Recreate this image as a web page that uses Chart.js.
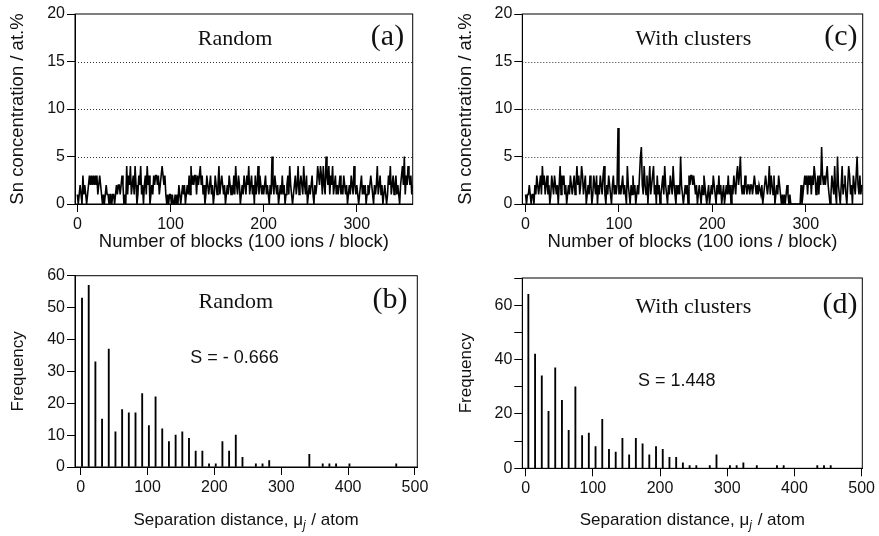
<!DOCTYPE html>
<html>
<head>
<meta charset="utf-8">
<script src="https://cdn.jsdelivr.net/npm/chart.js@4.4.1/dist/chart.umd.min.js"></script>
<style>
  body { margin: 0; background: #fff; }
  #wrap { position: relative; width: 879px; height: 536px; background: #fff; overflow: hidden; }
  canvas { position: absolute; }
</style>
</head>
<body>
<div id="wrap">
  <canvas id="chartA" width="440" height="262" style="left:0px;top:0px"></canvas>
  <canvas id="chartC" width="432" height="262" style="left:447px;top:0px"></canvas>
  <canvas id="chartB" width="440" height="274" style="left:0px;top:262px"></canvas>
  <canvas id="chartD" width="432" height="274" style="left:447px;top:262px"></canvas>
</div>
<script>
// Sn concentration per block (100 ions / block) (a) and (c)
const randomConc = [
  1,0,1,2,1,0,3,1,2,1,0,1,2,3,2,3,2,3,2,3,
  2,3,1,2,3,2,1,0,1,0,1,2,1,1,0,1,1,0,1,1,
  0,1,2,1,2,2,1,2,3,2,0,1,0,4,1,3,2,4,1,2,
  3,1,4,2,0,1,3,2,4,1,2,0,2,3,1,4,2,3,0,1,
  2,1,3,2,3,3,2,3,1,2,3,4,3,2,3,1,0,1,0,1,
  1,0,1,0,0,1,0,1,0,2,1,0,1,2,1,2,0,1,2,1,
  3,1,4,2,3,2,3,3,1,3,2,3,4,2,3,1,2,0,1,3,
  2,1,2,3,1,2,0,1,3,2,1,2,4,1,2,3,2,1,2,0,
  1,2,1,3,2,1,2,1,3,1,4,2,1,3,2,0,1,2,1,3,
  2,1,3,2,4,1,2,3,1,2,0,3,1,2,4,1,3,2,1,2,
  1,2,3,1,2,1,0,2,1,5,2,1,3,2,1,2,0,1,2,1,
  3,1,2,0,1,2,3,1,4,2,1,0,1,2,3,1,2,4,1,2,
  3,2,1,4,2,1,3,0,1,2,1,2,3,1,0,2,1,2,4,3,
  2,4,3,1,4,2,1,5,3,2,4,1,3,2,4,1,2,3,1,2,
  1,2,3,1,2,1,3,2,1,2,0,1,2,1,3,2,1,4,2,1,
  2,1,0,1,2,3,1,2,1,2,0,1,2,1,2,3,2,1,0,2,
  1,2,4,1,2,3,1,2,0,1,2,1,0,1,3,2,4,1,2,3,
  1,2,3,1,2,1,0,2,3,4,2,5,1,3,2,4,3,2,3,1,
  2
];
const clusterConc = [
  1,0,1,1,2,1,0,1,1,0,2,1,3,2,1,2,3,1,4,2,
  3,1,2,3,1,2,0,1,3,2,1,3,2,1,2,0,2,4,1,3,
  2,3,1,2,0,1,2,1,3,2,1,2,3,1,2,4,2,3,1,2,
  4,3,1,2,3,0,1,2,1,3,2,0,1,3,2,1,3,0,2,1,
  3,2,1,3,4,1,0,2,1,3,2,1,0,2,3,1,2,1,2,8,
  1,2,1,2,3,1,2,1,0,4,2,1,0,2,1,3,1,2,0,1,
  2,1,3,5,6,2,1,4,2,1,3,0,2,4,1,2,3,4,1,2,
  0,3,1,2,0,1,2,3,1,4,2,1,0,2,1,3,2,1,4,2,
  1,0,2,1,2,1,5,2,1,0,1,2,1,2,0,3,2,3,3,2,
  3,2,1,2,0,1,2,1,0,2,1,3,2,1,0,1,2,0,1,2,
  1,3,2,1,0,2,1,3,1,2,0,1,2,0,1,2,1,3,1,2,
  0,2,1,3,2,1,3,4,2,3,5,2,1,2,1,3,2,1,2,2,
  1,2,2,1,2,3,2,1,2,1,2,2,1,2,0,1,2,3,2,1,
  2,4,1,3,2,1,3,0,1,2,1,3,2,1,0,1,0,1,0,1,
  2,1,0,1,0,0,0,0,0,0,0,0,0,0,0,2,0,1,2,3,
  2,3,1,3,2,3,1,3,2,4,3,1,2,3,1,3,2,6,3,2,
  3,2,3,4,2,1,0,1,3,2,1,4,1,0,5,2,1,0,2,4,
  1,2,3,1,0,2,4,3,1,2,0,3,2,1,3,5,2,1,3,1,
  2
];

// Frequency distributions of separation distance, panels (b) and (d)
const randomSep  = [2,12,22,32,42,52,62,72,82,92,102,112,122,132,142,152,162,172,182,192,202,212,222,232,242,262,272,282,342,362,372,382,402,472];
const randomFreq = [53,57,33,15,37,11,18,17,17,23,13,22,12,8,10,11,9,5,5,1,1,8,5,10,3,1,1,2,4,1,1,1,1,1];
const clusterSep  = [4,14,24,34,44,54,64,74,84,94,104,114,124,134,144,154,164,174,184,194,204,214,224,234,244,254,274,284,304,314,324,344,374,384,434,444,454];
const clusterFreq = [64,42,34,21,37,25,14,30,12,13,8,18,7,6,11,5,11,9,5,8,7,4,4,2,1,1,1,5,1,1,2,1,1,1,1,1,1];

const blockTicks = [0, 100, 200, 300];
const sepTicks = [0, 100, 200, 300, 400, 500];
const concTicks = [0, 5, 10, 15, 20];
const concGrid = [5, 10, 15];

const tickFont = { family: 'Liberation Sans, Arial, sans-serif', size: 16 };
const ink = '#111';

// dotted guide lines, box around the plot area, panel labels
const framePlugin = {
  id: 'frame',
  beforeDatasetsDraw(chart, args, opts) {
    if (!opts.dotted) return;
    const { ctx, chartArea: a, scales } = chart;
    ctx.save();
    ctx.strokeStyle = '#333';
    ctx.lineWidth = 1;
    ctx.setLineDash([1, 2]);
    opts.dotted.forEach(v => {
      const y = Math.round(scales.y.getPixelForValue(v)) + 0.5;
      ctx.beginPath();
      ctx.moveTo(a.left, y);
      ctx.lineTo(a.right, y);
      ctx.stroke();
    });
    ctx.restore();
  },
  afterDraw(chart, args, opts) {
    const { ctx, chartArea: a } = chart;
    ctx.save();
    ctx.strokeStyle = '#000';
    ctx.lineWidth = 1;
    ctx.strokeRect(a.left, a.top, a.right - a.left, a.bottom - a.top);
    ctx.fillStyle = ink;
    ctx.textBaseline = 'alphabetic';
    (opts.labels || []).forEach(l => {
      ctx.font = l.font;
      ctx.textAlign = 'center';
      ctx.fillText(l.text, l.x, l.y);
    });
    // x title with subscript for the histogram panels
    if (opts.sepTitle) {
      const t = opts.sepTitle;
      const main = '17px "Liberation Sans", Arial, sans-serif';
      const sub = 'italic 12px "Liberation Sans", Arial, sans-serif';
      const p1 = 'Separation distance, \u03bc', p2 = 'j', p3 = ' / atom';
      ctx.font = main; const w1 = ctx.measureText(p1).width, w3 = ctx.measureText(p3).width;
      ctx.font = sub; const w2 = ctx.measureText(p2).width + 1;
      let x = t.x - (w1 + w2 + w3) / 2;
      ctx.textAlign = 'left';
      ctx.font = main; ctx.fillText(p1, x, t.y); x += w1;
      ctx.font = sub; ctx.fillText(p2, x, t.y + 4); x += w2;
      ctx.font = main; ctx.fillText(p3, x, t.y);
    }
    ctx.restore();
  }
};

function makeOptions(p) {
  return {
    responsive: false,
    animation: false,
    layout: { padding: { left: 0, top: p.top, right: p.right, bottom: 0 } },
    plugins: {
      legend: { display: false },
      tooltip: { enabled: false },
      frame: { labels: p.labels, sepTitle: p.sepTitle, dotted: p.dotted }
    },
    scales: {
      x: {
        type: 'linear', min: p.xMin, max: p.xMax, offset: false,
        afterBuildTicks: s => { s.ticks = p.xTicks.map(v => ({ value: v })); },
        afterFit: s => { s.height = p.xHeight; },
        grid: { display: true, drawOnChartArea: false, offset: false, tickLength: 8, tickColor: '#000' },
        border: { color: '#000' },
        ticks: { font: tickFont, color: ink, padding: 3, maxRotation: 0, autoSkip: false },
        title: {
          display: !!p.xTitle, text: p.xTitle || '', color: ink,
          font: { family: 'Liberation Sans, Arial, sans-serif', size: p.titleSize },
          padding: { top: 0, bottom: p.xTitlePad }
        }
      },
      y: {
        type: 'linear', min: p.yMin, max: p.yMax,
        afterBuildTicks: s => { s.ticks = p.yTicks.map(v => ({ value: v })); },
        afterFit: s => { s.width = p.yWidth; },
        grid: { drawOnChartArea: false, tickLength: 8, tickColor: '#000' },
        border: { color: '#000' },
        ticks: {
          font: tickFont, color: ink, padding: 2, autoSkip: false,
          callback: v => (p.yLabelEvery && v % p.yLabelEvery !== 0) ? '' : v
        },
        title: {
          display: true, text: p.yTitle, color: ink,
          font: { family: 'Liberation Sans, Arial, sans-serif', size: p.titleSize },
          padding: { top: p.yTitlePad, bottom: 0 }
        }
      }
    }
  };
}

function concChart(id, values, p) {
  new Chart(document.getElementById(id), {
    type: 'line',
    data: {
      datasets: [{
        data: values.map((v, i) => ({ x: i, y: v })),
        borderColor: '#000', borderWidth: 1.6, pointRadius: 0, tension: 0, fill: false
      }]
    },
    options: makeOptions(p),
    plugins: [framePlugin]
  });
}

function sepChart(id, seps, freqs, p) {
  new Chart(document.getElementById(id), {
    type: 'bar',
    data: {
      datasets: [{
        data: seps.map((s, i) => ({ x: s, y: freqs[i] })),
        backgroundColor: '#000', borderWidth: 0, barThickness: 1.2
      }]
    },
    options: makeOptions(p),
    plugins: [framePlugin]
  });
}

const serif = '"Liberation Serif", "Times New Roman", serif';

// (a) Random
concChart('chartA', randomConc, {
  top: 14, right: 27.3, xHeight: 58, yWidth: 75,
  xMin: -2.5, xMax: 360, xTicks: blockTicks,
  yMin: 0, yMax: 20, yTicks: concTicks, dotted: concGrid,
  titleSize: 18.5, xTitle: 'Number of blocks (100 ions / block)', xTitlePad: 8.9,
  yTitle: 'Sn concentration / at.%', yTitlePad: 6.9,
  labels: [
    { text: 'Random', x: 235, y: 45, font: '22px ' + serif },
    { text: '(a)', x: 387.5, y: 45, font: '30px ' + serif }
  ]
});

// (c) With clusters
concChart('chartC', clusterConc, {
  top: 14, right: 16.3, xHeight: 58, yWidth: 75.3,
  xMin: -3.5, xMax: 361, xTicks: blockTicks,
  yMin: 0, yMax: 20, yTicks: concTicks, dotted: concGrid,
  titleSize: 18.5, xTitle: 'Number of blocks (100 ions / block)', xTitlePad: 8.9,
  yTitle: 'Sn concentration / at.%', yTitlePad: 7.9,
  labels: [
    { text: 'With clusters', x: 246.3, y: 45, font: '22px ' + serif },
    { text: '(c)', x: 393.8, y: 45, font: '30px ' + serif }
  ]
});

// (b) Random histogram
sepChart('chartB', randomSep, randomFreq, {
  top: 13.7, right: 22.7, xHeight: 69, yWidth: 75,
  xMin: -8.5, xMax: 503.5, xTicks: sepTicks,
  yMin: 0, yMax: 60, yTicks: [0, 10, 20, 30, 40, 50, 60],
  titleSize: 17, yTitle: 'Frequency', yTitlePad: 7.8,
  sepTitle: { x: 246, y: 263 },
  labels: [
    { text: 'Random', x: 235.8, y: 46, font: '22px ' + serif },
    { text: '(b)', x: 390, y: 46, font: '30px ' + serif },
    { text: 'S = - 0.666', x: 234.5, y: 101.3, font: '18px "Liberation Sans", Arial, sans-serif' }
  ]
});

// (d) With clusters histogram
sepChart('chartD', clusterSep, clusterFreq, {
  top: 16, right: 16.7, xHeight: 67.7, yWidth: 75.3,
  xMin: -5, xMax: 501, xTicks: sepTicks,
  yMin: 0, yMax: 70, yTicks: [0, 10, 20, 30, 40, 50, 60, 70], yLabelEvery: 20,
  titleSize: 17, yTitle: 'Frequency', yTitlePad: 8.8,
  sepTitle: { x: 245.3, y: 263 },
  labels: [
    { text: 'With clusters', x: 246.3, y: 51, font: '22px ' + serif },
    { text: '(d)', x: 393, y: 51, font: '30px ' + serif },
    { text: 'S = 1.448', x: 229.7, y: 124, font: '18px "Liberation Sans", Arial, sans-serif' }
  ]
});
</script>
</body>
</html>
